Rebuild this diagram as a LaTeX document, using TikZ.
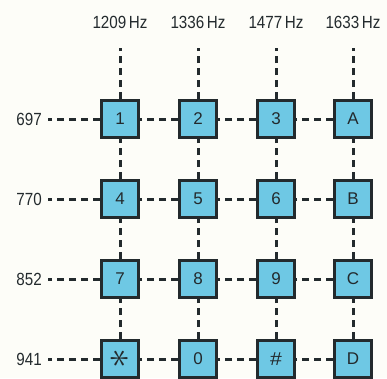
\documentclass[tikz,border=0pt]{standalone}
\usepackage{fontspec}
\setmainfont{Liberation Sans}
\usepackage{graphicx}
\definecolor{keyfill}{RGB}{110,200,228}
\definecolor{ink}{RGB}{35,42,45}
\definecolor{paper}{RGB}{253,253,248}
\begin{document}
\begin{tikzpicture}[x=1pt,y=-1pt,
  key/.style={draw=ink,fill=keyfill,line width=3pt,minimum size=37pt,inner sep=0pt,font=\fontsize{17}{17}\selectfont,text=ink},
  lbl/.style={font=\fontsize{16}{16}\selectfont,text=ink,inner sep=0pt},
  dline/.style={draw=ink,line width=3pt,dash pattern=on 7pt off 5pt}]
\fill[paper] (0,0) rectangle (387,378);
\useasboundingbox (0,0) rectangle (387,378);
% column and row coordinates
\def\xa{120}\def\xb{198}\def\xc{276}\def\xd{353}
\def\ya{119}\def\yb{199}\def\yc{279}\def\yd{359}
% top labels
\node[lbl] (f1) at (\xa,22) {\scalebox{0.95}[1.1]{1209\,Hz}};
\node[lbl] (f2) at (\xb,22) {\scalebox{0.95}[1.1]{1336\,Hz}};
\node[lbl] (f3) at (\xc,22) {\scalebox{0.95}[1.1]{1477\,Hz}};
\node[lbl] (f4) at (\xd,22) {\scalebox{0.95}[1.1]{1633\,Hz}};
\coordinate (t1) at (\xa,48);
\coordinate (t2) at (\xb,48);
\coordinate (t3) at (\xc,48);
\coordinate (t4) at (\xd,48);
% left labels
\node[lbl,anchor=east] (r1) at (42,\ya) {\scalebox{0.95}[1.1]{697}};
\node[lbl,anchor=east] (r2) at (42,\yb) {\scalebox{0.95}[1.1]{770}};
\node[lbl,anchor=east] (r3) at (42,\yc) {\scalebox{0.95}[1.1]{852}};
\node[lbl,anchor=east] (r4) at (42,\yd) {\scalebox{0.95}[1.1]{941}};
% keys
\node[key] (k1) at (\xa,\ya) {1};
\node[key] (k2) at (\xb,\ya) {2};
\node[key] (k3) at (\xc,\ya) {3};
\node[key] (kA) at (\xd,\ya) {A};
\node[key] (k4) at (\xa,\yb) {4};
\node[key] (k5) at (\xb,\yb) {5};
\node[key] (k6) at (\xc,\yb) {6};
\node[key] (kB) at (\xd,\yb) {B};
\node[key] (k7) at (\xa,\yc) {7};
\node[key] (k8) at (\xb,\yc) {8};
\node[key] (k9) at (\xc,\yc) {9};
\node[key] (kC) at (\xd,\yc) {C};
\node[key] (ks) at (\xa,\yd) {\rotatebox{90}{\scalebox{2.3}{$\ast$}}};
\node[key] (k0) at (\xb,\yd) {0};
\node[key] (kh) at (\xc,\yd) {\scalebox{1.25}[1.1]{\#}};
\node[key] (kD) at (\xd,\yd) {D};
% vertical dashed lines
\foreach \a/\b in {t1/k1,k1/k4,k4/k7,k7/ks,t2/k2,k2/k5,k5/k8,k8/k0,t3/k3,k3/k6,k6/k9,k9/kh,t4/kA,kA/kB,kB/kC,kC/kD}
  \draw[dline] (\b.north) -- (\a|-\a.south);
% horizontal dashed lines
\foreach \a/\b in {k1/k2,k2/k3,k3/kA,k4/k5,k5/k6,k6/kB,k7/k8,k8/k9,k9/kC,ks/k0,k0/kh,kh/kD}
  \draw[dline] (\b.west) -- (\a.east);
\foreach \b/\r in {k1/r1,k4/r2,k7/r3,ks/r4}
  \draw[dline] (\b.west) -- ([xshift=6pt]\r.east);
\end{tikzpicture}
\end{document}
